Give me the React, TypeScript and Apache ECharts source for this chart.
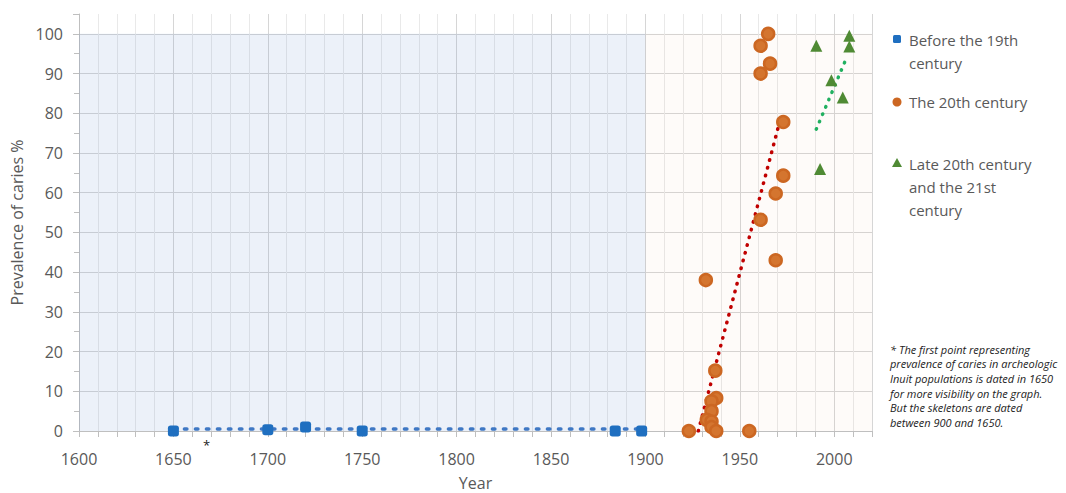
import React, { useEffect, useRef } from "react";
import * as echarts from "echarts";

const blueYears = [1650, 1700, 1720, 1750, 1884, 1898];
const blueValues = [0, 0.3, 1, 0, 0, 0];

const orangeYears = [1965, 1961, 1966, 1961, 1973, 1973, 1969, 1961, 1969, 1932, 1937, 1937.5, 1935, 1935, 1932.5, 1935, 1935, 1937.5, 1923, 1955];
const orangeValues = [100, 97, 92.5, 90, 77.8, 64.3, 59.8, 53.2, 43, 38, 15.2, 8.3, 7.5, 5, 2.8, 2.4, 1, 0, 0, 0];

const greenYears = [2008, 1990.5, 2008, 1998.5, 2004.5, 1992.5];
const greenValues = [99.5, 97, 96.8, 88.3, 84, 66];

const blueTrendYears = [1650, 1900];
const blueTrendValues = [0.5, 0.5];
const orangeTrendYears = [1928, 1972];
const orangeTrendValues = [0, 79.5];
const greenTrendYears = [1990.5, 2007];
const greenTrendValues = [76, 94.5];

const legendNames = ["Before the 19th\ncentury", "The 20th century", "Late 20th century\nand the 21st\ncentury"];
const footnoteLines = [
  "* The first point representing",
  "prevalence of caries in archeologic",
  "Inuit populations is dated in 1650",
  "for more visibility on the graph.",
  "But the skeletons are dated",
  "between 900 and 1650.",
];

const FONT = "'Open Sans', 'Liberation Sans', sans-serif";
const GRAY = "#595959";
const BLUE = "#1f6fc0";
const ORANGE = "#cc6722";
const GREEN = "#4f8a34";

const zip = (xs: number[], ys: number[]) => xs.map((x, i) => [x, ys[i]]);

export default function App() {
  const ref = useRef<HTMLDivElement>(null);
  useEffect(() => {
    if (!ref.current) return;
    const chart = echarts.init(ref.current, undefined, { renderer: "svg" });
    const dot = (color: string, width: number, dash: number[]) => ({
      color,
      width,
      type: dash,
      cap: "round",
    });
    chart.setOption({
      animation: false,
      backgroundColor: "#ffffff",
      grid: { left: 79, right: 194, top: 14, bottom: 62, outerBoundsMode: "none" },
      xAxis: {
        type: "value",
        min: 1600,
        max: 2020,
        interval: 50,
        name: "Year",
        nameLocation: "middle",
        nameGap: 44,
        nameTextStyle: { fontFamily: FONT, fontSize: 16, color: GRAY },
        axisLine: { show: true, lineStyle: { color: "#bfbfbf" } },
        axisTick: { show: true, length: 6, lineStyle: { color: "#bfbfbf" } },
        minorTick: { show: true, splitNumber: 5, length: 6, lineStyle: { color: "#bfbfbf" } },
        splitLine: { show: true, lineStyle: { color: "#d6d6d6" } },
        minorSplitLine: { show: true, lineStyle: { color: "#e9e9e9" } },
        axisLabel: {
          showMaxLabel: false,
          margin: 20,
          fontFamily: FONT,
          fontSize: 16,
          color: GRAY,
          formatter: (v: number) => String(v),
        },
      },
      yAxis: {
        type: "value",
        min: 0,
        max: 105,
        interval: 10,
        name: "Prevalence of caries %",
        nameLocation: "middle",
        nameGap: 51,
        nameTextStyle: { fontFamily: FONT, fontSize: 16, color: GRAY },
        axisLine: { show: true, lineStyle: { color: "#bfbfbf" } },
        axisTick: { show: true, length: 6, lineStyle: { color: "#bfbfbf" } },
        minorTick: { show: true, splitNumber: 2, length: 5, lineStyle: { color: "#bfbfbf" } },
        splitLine: { show: true, showMaxLine: false, lineStyle: { color: "#d6d6d6" } },
        axisLabel: {
          showMaxLabel: false,
          margin: 16,
          fontFamily: FONT,
          fontSize: 16,
          color: GRAY,
          formatter: (v: number) => String(v),
        },
      },
      series: [
        {
          type: "line",
          data: zip(blueTrendYears, blueTrendValues),
          showSymbol: false,
          silent: true,
          lineStyle: dot("#3f78c4", 3.5, [2.5, 8.5]),
          z: 3,
          markArea: {
            silent: true,
            data: [
              [
                { xAxis: 1600, yAxis: 0, itemStyle: { color: "rgba(68,114,196,0.1)" } },
                { xAxis: 1900, yAxis: 100 },
              ],
              [
                { xAxis: 1900, yAxis: 0, itemStyle: { color: "rgba(237,125,49,0.03)" } },
                { xAxis: 2020, yAxis: 100 },
              ],
            ],
          },
        },
        {
          name: legendNames[0],
          type: "scatter",
          data: zip(blueYears, blueValues),
          symbol: "roundRect",
          symbolSize: 11,
          itemStyle: { color: BLUE, opacity: 1 },
          z: 4,
        },
        {
          type: "line",
          data: zip(orangeTrendYears, orangeTrendValues),
          showSymbol: false,
          silent: true,
          lineStyle: dot("#c00000", 3.5, [0.5, 7.5]),
          z: 3,
        },
        {
          name: legendNames[1],
          type: "scatter",
          data: zip(orangeYears, orangeValues),
          symbol: "circle",
          symbolSize: 12,
          itemStyle: { color: "#d4752f", borderColor: ORANGE, borderWidth: 2.5, opacity: 1 },
          z: 4,
        },
        {
          type: "line",
          data: zip(greenTrendYears, greenTrendValues),
          showSymbol: false,
          silent: true,
          lineStyle: dot("#20b060", 3.5, [0.5, 7.5]),
          z: 3,
        },
        {
          name: legendNames[2],
          type: "scatter",
          data: zip(greenYears, greenValues),
          symbol: "triangle",
          symbolSize: 12,
          itemStyle: { color: GREEN, opacity: 1 },
          z: 4,
        },
      ],
      graphic: [
        { type: "text", left: 203, top: 438, style: { text: "*", font: `13px ${FONT}`, fill: "#222" } },
        { type: "rect", shape: { x: 893, y: 35, width: 8, height: 8, r: 1.5 }, style: { fill: BLUE } },
        { type: "text", x: 909, y: 28, style: { text: legendNames[0], font: `15px ${FONT}`, fill: GRAY, lineHeight: 23 } },
        { type: "circle", shape: { cx: 897, cy: 102, r: 4.5 }, style: { fill: ORANGE } },
        { type: "text", x: 909, y: 90, style: { text: legendNames[1], font: `15px ${FONT}`, fill: GRAY, lineHeight: 23 } },
        { type: "polygon", shape: { points: [[897, 158], [902, 167], [892, 167]] }, style: { fill: GREEN } },
        { type: "text", x: 909, y: 152, style: { text: legendNames[2], font: `15px ${FONT}`, fill: GRAY, lineHeight: 23 } },
        {
          type: "text",
          x: 890,
          y: 342,
          style: { text: footnoteLines.join("\n"), font: `italic 11px ${FONT}`, fill: "#222", lineHeight: 14.6 },
        },
      ],
    });
    return () => chart.dispose();
  }, []);
  return <div ref={ref} style={{ position: "fixed", left: 0, top: 0, width: 1066, height: 493 }} />;
}
